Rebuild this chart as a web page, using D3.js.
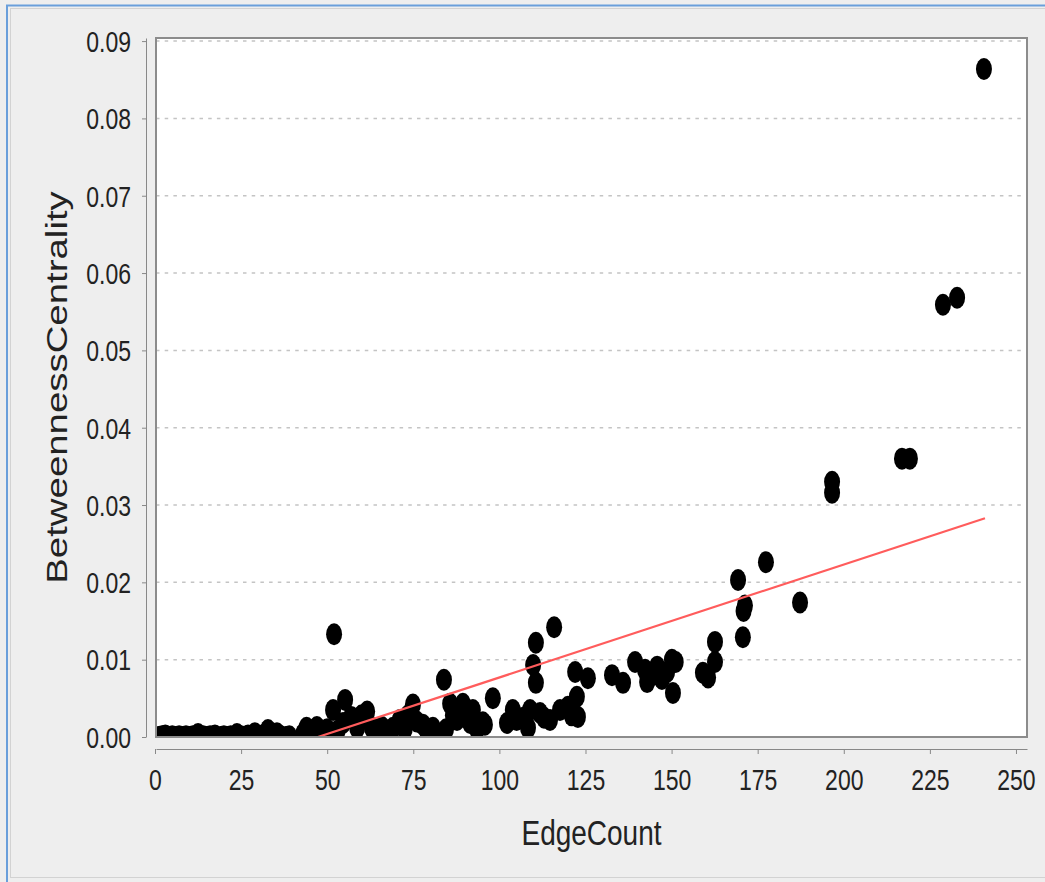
<!DOCTYPE html>
<html lang="en">
<head>
  <meta charset="UTF-8">
  <title>EdgeCount vs BetweennessCentrality</title>
  <script src="https://d3js.org/d3.v7.min.js"></script>
  <style>
    body {
      margin: 0;
      background: #eeeeee;
    }
    svg {
      display: block;
      font-family: "Liberation Sans", Arial, sans-serif;
    }
  </style>
</head>
<body>
  <svg id="chart" width="1045" height="882"></svg>

  <script>
    // scatter values
    const edgeCount = [
      1, 2, 3, 4, 5, 6, 7, 8, 9, 10, 11, 12.5, 14, 15, 16, 17.4, 19, 20, 21, 22,
      23.8, 25, 26, 27, 29, 30, 31, 32.8, 34, 35.4, 36.5, 38, 39,
      43, 44, 46, 47, 48.5, 50, 51.7, 52, 53, 54.6, 55.2, 57, 58.7, 60, 61.6, 63,
      64, 65.9, 67.5, 69.1, 71.1, 72.5, 73.5, 74.9, 76, 77.8, 79, 80.7, 82, 83.9,
      84.5, 85.7, 86.5, 87.7, 89.4, 90.5, 91.5, 92.3, 93.5, 95.2, 95.8, 98.1,
      102.2, 103.9, 105, 106.9, 108.3, 108.9, 109.8, 110.6, 110.6, 111.8, 113,
      114.7, 115.9, 117.6, 119.9, 121, 122.5, 122.8, 122, 125.7,
      132.7, 135.9, 139.4, 142.3, 142.9, 144.5, 145.8, 147.2, 148.7, 150.1, 151.2,
      150.4, 159.1, 160.6, 162.6, 162.6,
      169.3, 170.7, 170.9, 171.3, 177.4, 187.3, 196.6, 196.6, 216.9, 219.2,
      228.8, 232.9, 240.7
    ];
    const betweenness = [
      0, 0.0001, 0.0002, 0, 0.0001, 0, 0.0001, 0, 0.0001, 0, 0.0001, 0.0004, 0.0001, 0, 0.0001, 0.0002, 0, 0.0001, 0, 0.0001,
      0.0004, 0.0001, 0, 0.0002, 0.0005, 0.0001, 0.0002, 0.0009, 0.0002, 0.0005, 0.0001, 0, 0.0001,
      0.0004, 0.0012, 0.0007, 0.0013, 0.0002, 0.0010, 0.0035, 0.0133, 0.0008, 0.0018, 0.0048, 0.0026, 0.0012, 0.0028, 0.0033, 0.0012,
      0.0002, 0.0013, 0.0003, 0.0012, 0.0022, 0.0010, 0.0028, 0.0042, 0.0020, 0.0016, 0.0008, 0.0012, 0.0004, 0.0074,
      0.0010, 0.0043, 0.0028, 0.0022, 0.0043, 0.0030, 0.0018, 0.0035, 0.0010, 0.0019, 0.0016, 0.0050,
      0.0018, 0.0035, 0.0022, 0.0025, 0.0012, 0.0035, 0.0093, 0.0122, 0.0070, 0.0031, 0.0025,
      0.0022, 0.0142, 0.0035, 0.0039, 0.0028, 0.0052, 0.0026, 0.0084, 0.0076,
      0.0080, 0.0070, 0.0097, 0.0087, 0.0071, 0.0080, 0.0091, 0.0075, 0.0084, 0.0100, 0.0097,
      0.0057, 0.0083, 0.0077, 0.0097, 0.0123,
      0.0203, 0.0129, 0.0163, 0.0170, 0.0226, 0.0174, 0.0330, 0.0316, 0.0360, 0.0360,
      0.0559, 0.0568, 0.0864
    ];

    const xTicks = [0, 25, 50, 75, 100, 125, 150, 175, 200, 225, 250];
    const yTicks = [0, 0.01, 0.02, 0.03, 0.04, 0.05, 0.06, 0.07, 0.08, 0.09];

    // fitted line, end points
    const trendX = [47.3, 241];
    const trendY = [0, 0.0283];

    const svg = d3.select("#chart");
    const W = +svg.attr("width");
    const H = +svg.attr("height");

    const plot = { left: 156, top: 38, right: 1027, bottom: 737 };
    const stretch = 1.25; // the source picture is taller than wide

    const x = d3.scaleLinear().domain([0.29, 253.2]).range([plot.left, plot.right]);
    const y = d3.scaleLinear().domain([0, 0.0904]).range([plot.bottom, plot.top]);

    // window frame
    svg.append("rect")
      .attr("width", W).attr("height", H)
      .attr("fill", "#eeeeee");
    svg.append("rect")
      .attr("x", 10.5).attr("y", 8.5)
      .attr("width", W).attr("height", 869)
      .attr("fill", "none")
      .attr("stroke", "#d2d2d2");
    svg.append("path")
      .attr("d", `M7,${H} V5.5 H${W}`)
      .attr("fill", "none")
      .attr("stroke", "#6a9fdb")
      .attr("stroke-width", 2);

    // plot background
    svg.append("rect")
      .attr("x", plot.left).attr("y", plot.top)
      .attr("width", plot.right - plot.left)
      .attr("height", plot.bottom - plot.top)
      .attr("fill", "#ffffff");

    svg.append("clipPath").attr("id", "clip")
      .append("rect")
      .attr("x", plot.left).attr("y", plot.top)
      .attr("width", plot.right - plot.left)
      .attr("height", plot.bottom - plot.top);

    // horizontal grid
    svg.append("g")
      .selectAll("line")
      .data(yTicks.filter(d => d > 0))
      .join("line")
      .attr("x1", plot.left).attr("x2", plot.right)
      .attr("y1", d => y(d)).attr("y2", d => y(d))
      .attr("stroke", "#c4c4c4")
      .attr("stroke-width", 1.5)
      .attr("stroke-dasharray", "3.5,5.2");

    const marks = svg.append("g").attr("clip-path", "url(#clip)");

    marks.selectAll("ellipse")
      .data(edgeCount.map((d, i) => [d, betweenness[i]]))
      .join("ellipse")
      .attr("cx", d => x(d[0]))
      .attr("cy", d => y(d[1]))
      .attr("rx", 8)
      .attr("ry", 11)
      .attr("fill", "#000");

    marks.append("line")
      .attr("x1", x(trendX[0])).attr("y1", y(trendY[0]))
      .attr("x2", x(trendX[1])).attr("y2", y(trendY[1]))
      .attr("stroke", "#ff5c5c")
      .attr("stroke-width", 2.2);

    // plot border
    svg.append("rect")
      .attr("x", plot.left).attr("y", plot.top)
      .attr("width", plot.right - plot.left)
      .attr("height", plot.bottom - plot.top)
      .attr("fill", "none")
      .attr("stroke", "#8c8c8c")
      .attr("stroke-width", 2);

    // axes
    const yAxis = svg.append("g")
      .attr("transform", "translate(146,0)")
      .call(d3.axisLeft(y).tickValues(yTicks).tickFormat(d3.format(".2f"))
        .tickSize(4).tickSizeOuter(0));

    const xAxis = svg.append("g")
      .attr("transform", "translate(0,749)")
      .call(d3.axisBottom(x).tickValues(xTicks).tickFormat(d3.format("d"))
        .tickSize(5).tickSizeOuter(0));

    [yAxis, xAxis].forEach(g => {
      g.select(".domain").attr("stroke", "#888");
      g.selectAll(".tick line").attr("stroke", "#888");
      g.selectAll(".tick text")
        .attr("fill", "#222")
        .attr("font-size", 23)
        .attr("font-family", "'Liberation Sans', Arial, sans-serif")
        .attr("x", 0).attr("y", 0).attr("dy", null);
    });
    yAxis.selectAll(".tick text")
      .attr("transform", `translate(-15,10.3) scale(1,${stretch})`);
    xAxis.selectAll(".tick text")
      .attr("transform", `translate(0,41) scale(1,${stretch})`);

    // axis titles
    svg.append("text")
      .attr("transform", `translate(${(plot.left + plot.right) / 2},845) scale(1,${stretch})`)
      .attr("text-anchor", "middle")
      .attr("font-size", 28)
      .attr("fill", "#222")
      .text("EdgeCount");

    svg.append("text")
      .attr("transform", `translate(67,${(plot.top + plot.bottom) / 2}) rotate(-90) scale(1.28,1)`)
      .attr("text-anchor", "middle")
      .attr("font-size", 30)
      .attr("fill", "#222")
      .text("BetweennessCentrality");
  </script>
</body>
</html>
